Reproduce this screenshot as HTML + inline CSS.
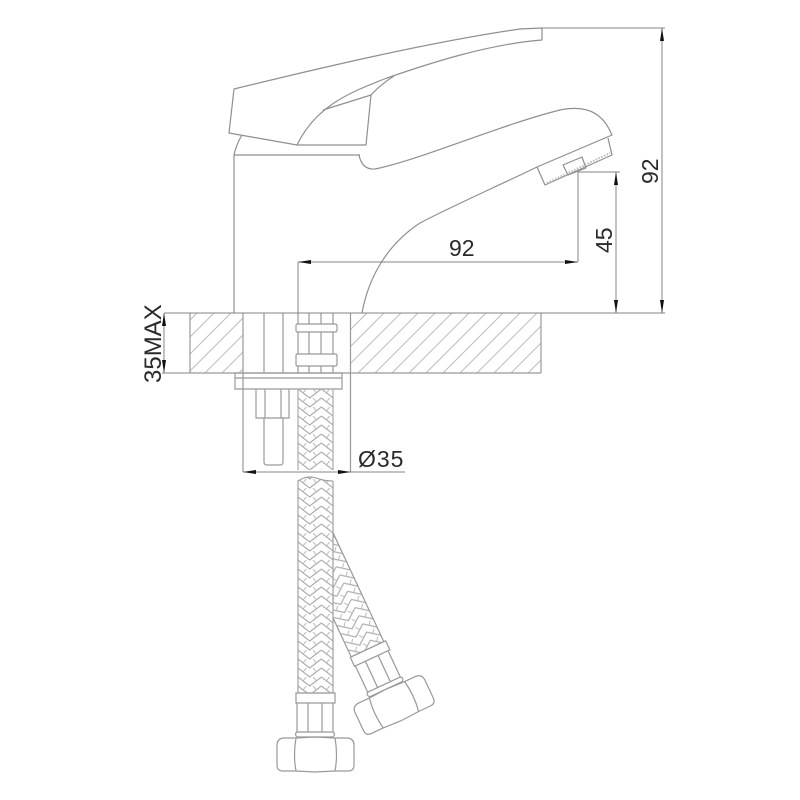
<!DOCTYPE html>
<html><head><meta charset="utf-8"><style>
html,body{margin:0;padding:0;background:#fff;width:800px;height:800px;overflow:hidden}
svg{display:block;filter:blur(0.35px)}
text{font-family:"Liberation Sans",sans-serif;fill:#2a2a2a}
</style></head><body>
<svg width="800" height="800" viewBox="0 0 800 800" xmlns="http://www.w3.org/2000/svg">
<defs>
<pattern id="h" width="17" height="17" patternUnits="userSpaceOnUse">
<path d="M-2 19L19 -2M-2 2L2 -2M15 19L19 15" stroke="#bcbcbc" stroke-width="1" fill="none"/>
</pattern>
<pattern id="b" width="23.400" height="9" patternUnits="userSpaceOnUse" x="298" y="389">
<path d="M0 0L11.700 9L23.400 0M0 -9L11.700 0L23.400 -9M0 9L11.700 18L23.400 9" stroke="#adadad" stroke-width="1.200" fill="none"/>
<path d="M5 4L9 -1M18.400 4L14.400 -1" stroke="#b8b8b8" stroke-width="1" fill="none"/>
</pattern>
<g id="end">
<path d="M296 693H335V703H296Z" fill="#fff" stroke="#999" stroke-width="1.200"/>
<path d="M297 703V732M308 703V732M322 703V732M333 703V732" stroke="#999" stroke-width="1.200" fill="none"/>
<path d="M297 732H333Q336 734 333 737H297Q294 734 297 732Z" fill="#fff" stroke="#999" stroke-width="1.200"/>
<path d="M283 738H296L315 737L335 738H348Q354 739 354 745V765Q354 771 348 771H335L315 772L296 771H283Q277 771 277 765V745Q277 739 283 738Z" fill="#fff" stroke="#999" stroke-width="1.200"/>
<path d="M296 738Q293 755 296 771M335 738Q338 755 335 771" stroke="#999" stroke-width="1.200" fill="none"/>
</g>
</defs>

<g fill="none" stroke="#8f8f8f" stroke-width="1.200" stroke-linejoin="round">
<!-- handle -->
<path d="M234 89C320 68 430 42 520 29L542 28V40C490 44 433 62 387 78C345 94 315 108 297 145"/>
<path d="M234 89L229 133L297 145H366L371 95L323 110"/>
<path d="M371 95Q381 84 394 76"/>
<!-- base -->
<path d="M242 135Q236 145 234 155V313M234 155H360"/>
<!-- spout -->
<path d="M359 155Q362 170 375 169C420 160 500 125 560 110Q598 102 611 133L612 135L537 167C500 185 450 207 420 223C385 246 368 280 362 313"/>
<path d="M537 167L545 185L612 155L608 138"/>
<path d="M563 165L582 157L586 168L568 175Z"/>
<path d="M547 183L610 153" stroke="#bbb" stroke-width="2" stroke-dasharray="1.500 1.500"/>
</g>

<!-- counter -->
<rect x="190" y="313" width="53" height="60" fill="url(#h)"/>
<rect x="351" y="313" width="190" height="60" fill="url(#h)"/>
<g fill="none" stroke="#999" stroke-width="1.200">
<path d="M190 313V373M541 313V373M190 373H541"/>
<path d="M243 313V472M350.500 313V472"/>
<path d="M235 373H342V389H235ZM235 378H342"/>
<path d="M264 313V373M283 313V373" />
<path d="M256 389V418H289V389M265 389V418M281 389V418"/>
<path d="M264 418V462Q264 465 267 465H280Q283 465 283 462V418"/>
<path d="M298 313V373M333 313V373M309 313V373M321 313V373"/>
</g>
<g fill="#fff" stroke="#999" stroke-width="1.200">
<rect x="296" y="324" width="41" height="8" rx="1.500"/>
<rect x="296" y="354" width="41" height="12" rx="1.500"/>
</g>

<!-- hoses -->
<rect x="298" y="389" width="35" height="81" fill="url(#b)"/>
<path d="M298 389V470M333 389V470" stroke="#aaa" stroke-width="1.200" fill="none"/>
<g transform="translate(393.500 705) rotate(-25) translate(-315 -754.500)">
<rect x="297" y="570" width="36" height="123" fill="#fff"/>
<rect x="297" y="570" width="36" height="123" fill="url(#b)" stroke="#999" stroke-width="1.200"/>
<use href="#end"/>
</g>
<rect x="298" y="477" width="35" height="216" fill="#fff"/>
<use href="#end"/>
<rect x="298" y="477" width="35" height="216" fill="url(#b)" stroke="#a0a0a0" stroke-width="1.200"/>
<path d="M297 481Q307 474 316 478T334 481V470H297Z" fill="#fff"/>
<path d="M298 481Q307 475 316 478T333 481" fill="none" stroke="#999"/>

<!-- dims -->
<g fill="none" stroke="#858585" stroke-width="1">
<path d="M164 313H665M162 373H190"/>
<path d="M164 313V373"/>
<path d="M298 262H578M298 262V313M578 172V262M578 172H620"/>
<path d="M616 172V313M662 28V313M542 28H665"/>
<path d="M243 472H405"/>
</g>
<g fill="#111" stroke="none">
<path d="M298 262L311 260V264ZM578 262L565 260V264Z"/>
<path d="M616 172L614 185H618ZM616 313L614 300H618Z"/>
<path d="M662 28L660 41H664ZM662 313L660 300H664Z"/>
<path d="M243 472L256 470V474ZM351 472L338 470V474Z"/>
<path d="M164 313L162 326H166ZM164 373L162 360H166Z"/>
</g>
<text x="449" y="256" font-size="23">92</text>
<text x="358" y="467" font-size="23" letter-spacing="1">Ø35</text>
<text transform="translate(612 253) rotate(-90)" font-size="23">45</text>
<text transform="translate(658 184) rotate(-90)" font-size="23">92</text>
<text transform="translate(161 383) rotate(-90)" font-size="24">35MAX</text>
</svg>
</body></html>
